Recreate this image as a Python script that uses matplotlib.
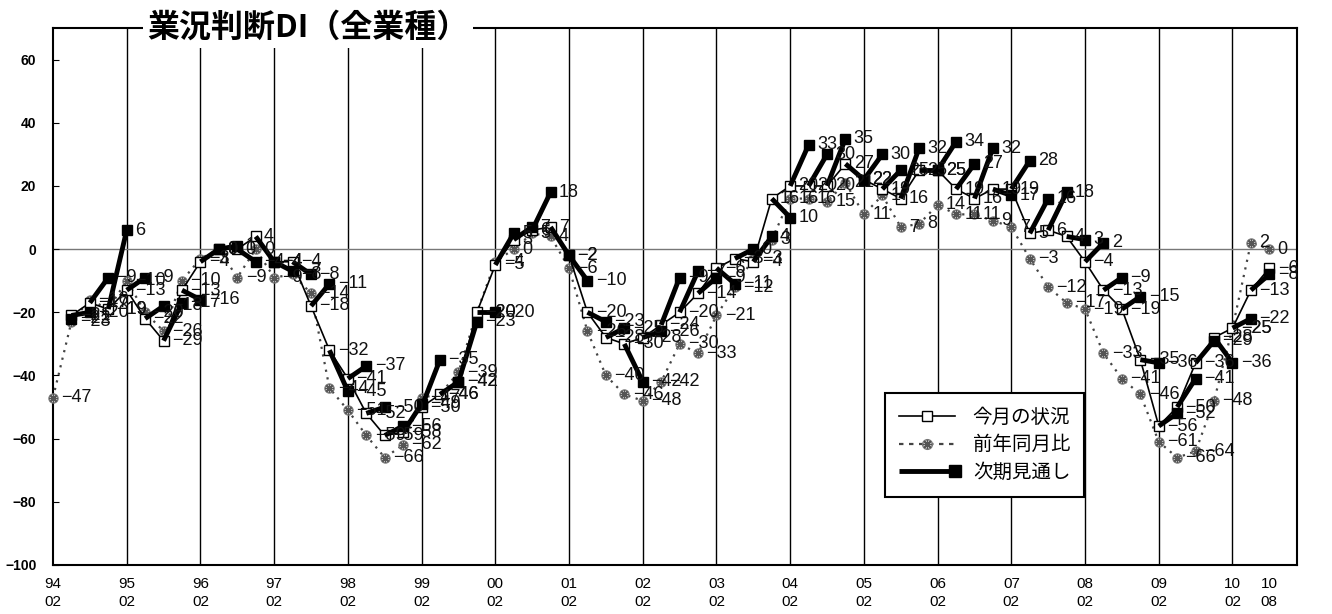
import numpy as np
import matplotlib.pyplot as plt
from matplotlib.lines import Line2D
from matplotlib.legend_handler import HandlerLine2D, HandlerTuple
from matplotlib.font_manager import FontProperties

plt.rcParams['font.family'] = ['Liberation Sans Narrow', 'Liberation Sans', 'DejaVu Sans']

nan = np.nan

# quarterly survey, 94/02 .. 10/08
periods = [f'{y % 100:02d}/{m:02d}' for y in range(1994, 2011) for m in (2, 5, 8, 11)][:67]

# 今月の状況
now = [nan, -21, -17, -19,
       -13, -22, -29, -13,
       -4, 0, 0, 4,
       -4, -4, -18, -32,
       -41, -52, -59, -58,
       -50, -46, -42, -20,
       -5, 3, 6, 7,
       -2, -20, -28, -30,
       -28, -24, -20, -14,
       -6, -3, -4, 16,
       20, 20, 20, 27,
       22, 19, 16, 25,
       25, 19, 16, 19,
       19, 5, 6, 4,
       -4, -13, -19, -35,
       -56, -50, -36, -28,
       -25, -13, -6]

# 前年同月比
prev = [-47, -23, -16, -19,
        -10, -20, -26, -10,
        -3, 0, -9, 0,
        -9, -8, -14, -44,
        -51, -59, -66, -62,
        -47, -46, -39, -20,
        -4, 0, 5, 4,
        -6, -26, -40, -46,
        -48, -42, -30, -33,
        -21, -12, -3, 3,
        16, 16, 15, 21,
        11, 17, 7, 8,
        14, 11, 11, 9,
        7, -3, -12, -17,
        -19, -33, -41, -46,
        -61, -66, -64, -48,
        -25, 2, 0]

# 次期見通し (outlook for the quarter it is plotted at)
outlook = [nan, -22, -20, -9,
           6, -9, -18, -17,
           -16, 0, 1, -4,
           -4, -7, -8, -11,
           -45, -37, -50, -56,
           -49, -35, -42, -23,
           -20, 5, 7, 18,
           -2, -10, -23, -25,
           -42, -26, -9, -7,
           -9, -11, 0, 4,
           10, 33, 30, 35,
           22, 30, 25, 32,
           25, 34, 27, 32,
           17, 28, 16, 18,
           3, 2, -9, -15,
           -36, -52, -41, -29,
           -36, -22, -8]

tick_pos = list(range(0, 65, 4)) + [66]
tick_labels = [p.replace('/', '\n') for i, p in enumerate(periods) if i in tick_pos]

x = np.arange(len(periods))
now = np.array(now, dtype=float)
prev = np.array(prev, dtype=float)
outlook = np.array(outlook, dtype=float)

fig = plt.figure(figsize=(13.32, 6.14), dpi=100)
ax = fig.add_axes([53 / 1332, 49 / 614, 1244 / 1332, 537 / 614])

# year grid and zero line
for p in range(4, 65, 4):
    ax.axvline(p, color='black', lw=1.0, zorder=1)
ax.axhline(0, color='#777777', lw=1.0, zorder=1)

ax.plot(x, now, color='black', lw=1.2, marker='s', ms=6.5, mfc='white',
        mec='black', mew=1.0, zorder=4, clip_on=False)

ax.plot(x, prev, color='#444444', lw=1.6, ls=(0, (1, 2.5)), marker='o', ms=6.5,
        mfc='white', mec='#777777', mew=1.0, zorder=3, clip_on=False)
ax.plot(x, prev, ls='none', marker=(8, 2, 0), ms=6, mec='#555555', mew=1.0,
        zorder=3, clip_on=False)

# outlook: thick spur from the current reading to next quarter's outlook
for t in range(1, len(x)):
    if np.isnan(now[t - 1]) or np.isnan(outlook[t]):
        continue
    ax.plot([x[t - 1], x[t]], [now[t - 1], outlook[t]], color='black', lw=3.5,
            solid_capstyle='butt', zorder=5)
ax.plot(x, outlook, ls='none', marker='s', ms=6.5, color='black', zorder=6)


def fmt(v):
    return f'{int(v)}'.replace('-', '\u2212')


for series in (prev, now, outlook):
    for t, v in zip(x, series):
        if np.isnan(v):
            continue
        ax.annotate(fmt(v), (t, v), xytext=(6, 0), textcoords='offset points',
                    ha='left', va='center', fontsize=13, color='#111111',
                    zorder=7, annotation_clip=False)

ax.set_xlim(0, 67.5)
ax.set_ylim(-100, 70)
ax.set_yticks(range(-100, 61, 20))
ax.set_yticklabels([fmt(v) for v in range(-100, 61, 20)],
                   fontsize=10, fontweight='bold', family='Liberation Sans')
ax.tick_params(axis='y', direction='in', length=4, pad=12)
ax.set_xticks(tick_pos)
ax.set_xticklabels(tick_labels, fontsize=11, linespacing=1.35)
ax.tick_params(axis='x', length=0, pad=9)
for s in ax.spines.values():
    s.set_linewidth(1.5)

ax.text(0.205, 1.0, '業況判断DI（全業種）', transform=ax.transAxes, ha='center',
        va='center', fontsize=23, fontweight='bold', family='Noto Sans CJK JP',
        bbox=dict(facecolor='white', edgecolor='none', pad=3), zorder=10)


class EndMarkerHandler(HandlerLine2D):
    def create_artists(self, *args, **kwargs):
        artists = super().create_artists(*args, **kwargs)
        artists[0].set_markevery([2])
        return artists


h_now = Line2D([], [], color='black', lw=1.2, marker='s', ms=7, mfc='white', mec='black')
h_prev = (Line2D([], [], color='#444444', lw=1.6, ls=(0, (2, 2.5))),
          Line2D([], [], ls='none', marker='o', ms=7, mfc='white', mec='#777777'),
          Line2D([], [], ls='none', marker=(8, 2, 0), ms=6.5, mec='#555555'))
h_fc = Line2D([], [], color='black', lw=3.5, marker='s', ms=8, mfc='black',
              solid_capstyle='butt')

leg = ax.legend([h_now, h_prev, h_fc], ['今月の状況', '前年同月比', '次期見通し'],
                handler_map={h_fc: EndMarkerHandler(numpoints=1),
                             tuple: HandlerTuple(ndivide=1)},
                loc='lower left', bbox_to_anchor=(0.669, 0.127), borderaxespad=0,
                prop=FontProperties(family='Noto Sans CJK JP', size=14),
                frameon=True, fancybox=False, edgecolor='black', framealpha=1,
                handlelength=2.9, handletextpad=0.9, borderpad=0.7,
                labelspacing=0.35)
leg.get_frame().set_linewidth(1.5)
leg.set_zorder(12)

fig.savefig('out.png', dpi=100)
